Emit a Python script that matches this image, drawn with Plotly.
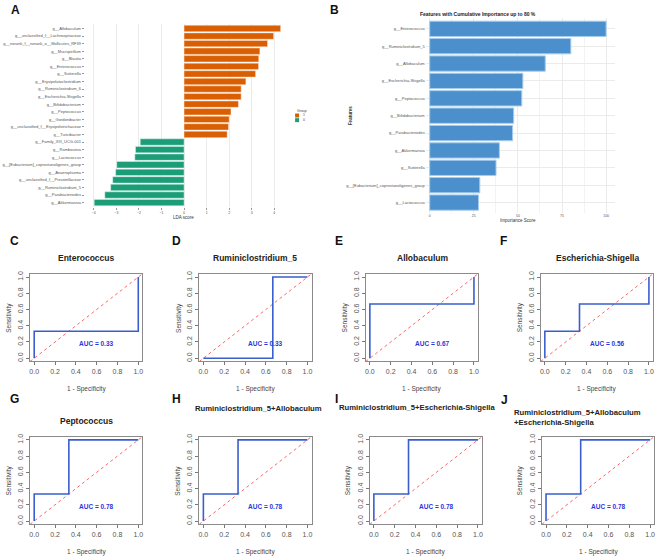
import plotly.graph_objects as go

W, H = 656, 559

# ---------------- data ----------------
# Panel A: LEfSe LDA scores
lda_taxa_g1 = ["g__Allobaculum", "g__unclassified_f__Lachnospiraceae",
               "g__norank_f__norank_o__Mollicutes_RF39", "g__Mucispirillum",
               "g__Blautia", "g__Enterococcus", "g__Sutterella",
               "g__Erysipelatoclostridium", "g__Ruminiclostridium_6",
               "g__Escherichia-Shigella", "g__Bifidobacterium", "g__Peptococcus",
               "g__Gordonibacter", "g__unclassified_f__Erysipelotrichaceae",
               "g__Turicibacter"]
lda_scores_g1 = [4.28, 3.97, 3.70, 3.36, 3.31, 3.30, 3.17, 2.74, 2.53, 2.53,
                 2.41, 2.08, 2.00, 1.97, 1.91]
lda_taxa_g0 = ["g__Family_XIII_UCG-001", "g__Romboutsia", "g__Lactococcus",
               "g__[Eubacterium]_coprostanoligenes_group", "g__Anaeroplasma",
               "g__unclassified_f__Prevotellaceae", "g__Ruminiclostridium_5",
               "g__Parabacteroides", "g__Akkermansia"]
lda_scores_g0 = [-1.94, -2.15, -2.18, -2.98, -3.03, -3.16, -3.25, -3.51, -3.98]
lda_ticks = [-4, -3, -2, -1, 0, 1, 2, 3, 4]

# Panel B: random forest importance
rf_features = ["g__Enterococcus", "g__Ruminiclostridium_5", "g__Allobaculum",
               "g__Escherichia-Shigella", "g__Peptococcus", "g__Bifidobacterium",
               "g__Parabacteroides", "g__Akkermansia", "g__Sutterella",
               "g__[Eubacterium]_coprostanoligenes_group", "g__Lactococcus"]
rf_importance = [100.0, 80.0, 65.5, 52.8, 52.2, 47.6, 47.0, 39.5, 37.6, 28.4, 27.7]
rf_ticks = [0, 25, 50, 75, 100]

# Panels C-J: ROC curves
roc_letters = ["C", "D", "E", "F", "G", "H", "I", "J"]
roc_titles = ["Enterococcus", "Ruminiclostridium_5", "Allobaculum",
              "Escherichia-Shigella", "Peptococcus",
              "Ruminiclostridium_5+Allobaculum",
              "Ruminiclostridium_5+Escherichia-Shigella",
              "Ruminiclostridium_5+Allobaculum<br>+Escherichia-Shigella"]
roc_fpr = [[0, 0, 1, 1],
           [0, 0.667, 0.667, 1],
           [0, 0, 1, 1],
           [0, 0, 0.333, 0.333, 1, 1],
           [0, 0, 0.333, 0.333, 1],
           [0, 0, 0.333, 0.333, 1],
           [0, 0, 0.333, 0.333, 1],
           [0, 0, 0.333, 0.333, 1]]
roc_tpr = [[0, 0.333, 0.333, 1],
           [0, 0, 1, 1],
           [0, 0.667, 0.667, 1],
           [0, 0.333, 0.333, 0.667, 0.667, 1],
           [0, 0.333, 0.333, 1, 1],
           [0, 0.333, 0.333, 1, 1],
           [0, 0.333, 0.333, 1, 1],
           [0, 0.333, 0.333, 1, 1]]
roc_auc = ["0.33", "0.33", "0.67", "0.56", "0.78", "0.78", "0.78", "0.78"]
roc_ticks = [0.0, 0.2, 0.4, 0.6, 0.8, 1.0]

# ---------------- helpers ----------------
def fx(p):
    return p / W

def fy(p):
    return 1 - p / H

FONT = "Arial, Liberation Sans, sans-serif"
ORANGE = "#D95F02"
GREEN = "#1B9E77"

fig = go.Figure()
annotations = []
shapes = []
layout = {}


def ann(text, px_, py_, size, color="#333", xanchor="center", angle=0, align="center"):
    annotations.append(dict(text=text, x=fx(px_), y=fy(py_), xref="paper", yref="paper",
                            xanchor=xanchor, yanchor="middle", showarrow=False,
                            textangle=angle, align=align,
                            font=dict(size=size, color=color, family=FONT)))


# ---------------- Panel A ----------------
a_order = lda_taxa_g1 + lda_taxa_g0
fig.add_trace(go.Bar(x=lda_scores_g1, y=lda_taxa_g1, orientation="h", width=0.84,
                     marker=dict(color=ORANGE, opacity=1,
                                 line=dict(color="rgba(255,235,225,0.9)", width=0.5)),
                     xaxis="x", yaxis="y", showlegend=False, hoverinfo="x+y"))
fig.add_trace(go.Bar(x=lda_scores_g0, y=lda_taxa_g0, orientation="h", width=0.84,
                     marker=dict(color=GREEN, opacity=1,
                                 line=dict(color="rgba(225,245,238,0.9)", width=0.5)),
                     xaxis="x", yaxis="y", showlegend=False, hoverinfo="x+y"))
layout["xaxis"] = dict(domain=[fx(84), fx(290)], anchor="y", range=[-4.4, 4.7],
                       tickvals=lda_ticks, ticks="outside", ticklen=2, tickwidth=0.5,
                       tickcolor="#999", showgrid=True, gridcolor="#EBEBEB", gridwidth=0.6,
                       zeroline=False, showline=False,
                       tickfont=dict(size=3.5, color="#555", family=FONT))
layout["yaxis"] = dict(domain=[fy(205.6), fy(21.1)], anchor="x", type="category",
                       categoryorder="array", categoryarray=a_order,
                       range=[len(a_order) - 0.4, -0.6],
                       ticks="outside", ticklen=2, tickwidth=0.5, tickcolor="#999",
                       showgrid=False, zeroline=False, showline=False,
                       tickfont=dict(size=4, color="#555", family=FONT))
ann("LDA score", 183, 216.5, 4.5)
# legend (manual, small)
ann("Group", 295, 108.5, 3.5, "#444", xanchor="left")
shapes.append(dict(type="rect", xref="paper", yref="paper", x0=fx(295), x1=fx(299),
                   y0=fy(115.3), y1=fy(111.3), fillcolor=ORANGE, line=dict(width=0)))
shapes.append(dict(type="rect", xref="paper", yref="paper", x0=fx(295), x1=fx(299),
                   y0=fy(120), y1=fy(116), fillcolor=GREEN, line=dict(width=0)))
ann("1", 301, 113.3, 3.5, "#444", xanchor="left")
ann("0", 301, 118, 3.5, "#444", xanchor="left")

# ---------------- Panel B ----------------
fig.add_trace(go.Bar(x=rf_importance, y=rf_features, orientation="h", width=0.88,
                     marker=dict(color="#4B90CC", opacity=1,
                                 line=dict(color="#A8CCEA", width=1)),
                     xaxis="x2", yaxis="y2", showlegend=False, hoverinfo="x+y"))
layout["xaxis2"] = dict(domain=[fx(426), fx(616)], anchor="y2", range=[-2.26, 105.1],
                        tickvals=rf_ticks, ticks="", showgrid=True, gridcolor="#EBEBEB",
                        gridwidth=0.6, zeroline=False, showline=False,
                        minor=dict(tickvals=[12.5, 37.5, 62.5, 87.5], showgrid=True,
                                   gridcolor="#F3F3F3", gridwidth=0.5),
                        tickfont=dict(size=3.5, color="#555", family=FONT))
layout["yaxis2"] = dict(domain=[fy(211.5), fy(15.5)], anchor="x2", type="category",
                        categoryorder="array", categoryarray=rf_features,
                        range=[len(rf_features) - 0.4, -0.6],
                        ticks="", showgrid=True, gridcolor="#EBEBEB", gridwidth=0.6,
                        zeroline=False, showline=False,
                        tickfont=dict(size=4, color="#555", family=FONT))
ann("<b>Features with Cumulative Importance up to 80 %</b>", 478, 11, 5, "#222")
ann("Importance Score", 519, 219, 4.5)
ann("<b>Features</b>", 350, 113, 4.5, angle=-90)

# ---------------- ROC panels ----------------
col_x0 = [[33.3, 203.0, 370.0, 545.5], [33.3, 203.0, 374.0, 546.7]]
row_y1 = [276.0, 440.0]   # pixel row of sensitivity 1.0
XS, YS = 104.4, 81.8      # pixels per unit
title_pos = [(85.5, 257), (255, 257), (423, 257), (598, 257),
             (86, 421), (258, 408), (417, 407), (513, 417)]
title_size = [8.5, 8.5, 8.5, 8.5, 8.5, 7.7, 7.7, 7.7]
letter_pos = [(7, 240), (170, 240), (333, 240), (499, 240),
              (7, 399), (170, 399), (333, 399), (500, 400)]
ROC_BLUE = "#3A5FCD"

for i in range(8):
    r, c = divmod(i, 4)
    k = i + 3
    x0 = col_x0[r][c]
    y1 = row_y1[r]
    left, right = x0 - 0.04 * XS, x0 + 1.04 * XS
    top, bottom = y1 - 0.04 * YS, y1 + 1.04 * YS
    xa, ya = f"x{k}", f"y{k}"
    fig.add_trace(go.Scatter(x=roc_fpr[i], y=roc_tpr[i], mode="lines",
                             line=dict(color=ROC_BLUE, width=1.6),
                             xaxis=xa, yaxis=ya, showlegend=False))
    shapes.append(dict(type="line", xref=xa, yref=ya, x0=-0.04, y0=-0.04, x1=1.04, y1=1.04,
                       line=dict(color="#FF5555", width=0.9, dash="dot"), layer="below"))
    layout[f"xaxis{k}"] = dict(domain=[fx(left), fx(right)], anchor=ya, range=[-0.04, 1.04],
                               tickvals=roc_ticks, ticktext=[f"{v:.1f}" for v in roc_ticks],
                               ticks="outside", ticklen=3, tickwidth=0.8, tickcolor="#777",
                               showline=True, mirror=True, linecolor="#8A8A8A", linewidth=1,
                               showgrid=False, zeroline=False,
                               tickfont=dict(size=7, color="#555", family=FONT))
    layout[f"yaxis{k}"] = dict(domain=[fy(bottom), fy(top)], anchor=xa, range=[-0.04, 1.04],
                               tickvals=roc_ticks, ticktext=[f"{v:.1f}" for v in roc_ticks],
                               tickangle=-90,
                               ticks="outside", ticklen=3, tickwidth=0.8, tickcolor="#777",
                               showline=True, mirror=True, linecolor="#8A8A8A", linewidth=1,
                               showgrid=False, zeroline=False,
                               tickfont=dict(size=7, color="#555", family=FONT))
    annotations.append(dict(text=f"<b>AUC = {roc_auc[i]}</b>", x=0.6, y=0.185,
                            xref=xa, yref=ya, showarrow=False, xanchor="center",
                            yanchor="middle",
                            font=dict(size=6.5, color="#2B35E0", family=FONT)))
    ann("Sensitivity", left - 21, (top + bottom) / 2, 6.5, "#444", angle=-90)
    ann("1 - Specificity", (left + right) / 2, bottom + 28, 6.5, "#444")
    tx, ty = title_pos[i]
    if i == 7:
        ann(f"<b>{roc_titles[i]}</b>", tx, ty, title_size[i], "#222",
            xanchor="left", align="left")
    else:
        ann(f"<b>{roc_titles[i]}</b>", tx, ty, title_size[i], "#222")
    lx, ly = letter_pos[i]
    ann(f"<b>{roc_letters[i]}</b>", lx, ly, 12, "#111", xanchor="left")

ann("<b>A</b>", 8, 7, 12, "#111", xanchor="left")
ann("<b>B</b>", 328, 7, 12, "#111", xanchor="left")

fig.update_layout(width=W, height=H, margin=dict(l=0, r=0, t=0, b=0),
                  paper_bgcolor="white", plot_bgcolor="white", barmode="overlay",
                  font=dict(family=FONT), annotations=annotations, shapes=shapes,
                  showlegend=False, **layout)

fig.write_html("out.html")
